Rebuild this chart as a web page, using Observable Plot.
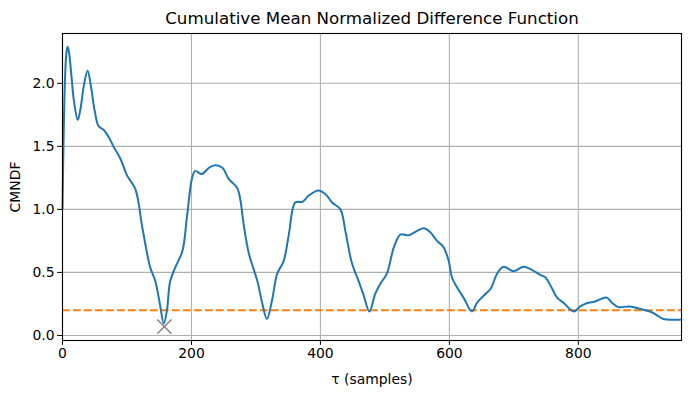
<!DOCTYPE html>
<html><head><meta charset="utf-8">
<script src="https://cdn.jsdelivr.net/npm/d3@7"></script>
<script src="https://cdn.jsdelivr.net/npm/@observablehq/plot@0.6"></script>
<style>body{margin:0;background:#fff;font-family:"DejaVu Sans",sans-serif}</style>
</head><body><div id="chart"></div>
<script>
const tau = [0,2,4,6,7.8,10,14,18,23.7,28,33,39,44,50,56,64,72,80,90,100,113,124,136,144,151,157,162,167,175,186,193,201,206,216,227,237,248,258,271,276,281,289,302,310,317,325,333,343,351,361,372,382,397,408,418,431,439,449,459,467,476,485,493,503,514,524,537,550,560,570,581,591,599,604,612,622,635,643,653,664,674,684,700,715,728,741,749,757,767,777,793,803,813,826,844,852,862,880,896,911,922,932,948,960];
const cmndf = [1.0,1.65,2.05,2.24,2.29,2.25,2.05,1.85,1.71,1.8,1.98,2.1,1.98,1.78,1.66,1.63,1.57,1.49,1.4,1.27,1.16,0.85,0.54,0.43,0.25,0.095,0.2,0.43,0.54,0.67,0.94,1.25,1.305,1.28,1.33,1.35,1.33,1.24,1.17,1.07,0.88,0.65,0.435,0.25,0.13,0.28,0.49,0.59,0.8,1.055,1.06,1.11,1.15,1.12,1.055,1.0,0.82,0.57,0.435,0.32,0.19,0.33,0.41,0.49,0.7,0.8,0.795,0.83,0.85,0.82,0.75,0.7,0.59,0.46,0.38,0.3,0.19,0.26,0.315,0.37,0.49,0.545,0.51,0.545,0.52,0.48,0.46,0.395,0.3,0.26,0.19,0.23,0.255,0.27,0.3,0.26,0.225,0.23,0.21,0.19,0.16,0.13,0.125,0.125];
const threshold = 0.2;
const bestTau = [158];
const bestVal = [0.07];
const xTicks = [0,200,400,600,800];
const yTicks = [0,0.5,1,1.5,2];

const data = tau.map((t,i)=>({t, v:cmndf[i]}));
const pick = bestTau.map((t,i)=>({t, v:bestVal[i]}));
const font = "DejaVu Sans, sans-serif";

const plot = Plot.plot({
  width: 691, height: 397,
  marginTop: 33, marginBottom: 57, marginLeft: 62, marginRight: 10,
  style: {fontFamily: font, fontSize: "13.9px", color: "black", background: "white"},
  x: {domain: [0, 960], ticks: xTicks, label: null},
  y: {domain: [-0.04, 2.395], ticks: yTicks, label: null},
  marks: [
    Plot.gridX(xTicks, {stroke: "#b0b0b0", strokeOpacity: 1, strokeWidth: 1.1}),
    Plot.gridY(yTicks, {stroke: "#b0b0b0", strokeOpacity: 1, strokeWidth: 1.1}),
    Plot.ruleY([threshold], {stroke: "#ff7f0e", strokeWidth: 2, strokeDasharray: "7.7,3.3"}),
    Plot.line(data, {x: "t", y: "v", stroke: "#1f77b4", strokeWidth: 2, curve: "catmull-rom"}),
    Plot.dot(pick, {x: "t", y: "v", symbol: "times", r: 6.5, stroke: "gray", strokeWidth: 1.4}),
    Plot.frame({stroke: "black", strokeWidth: 1.1}),
    Plot.axisX(xTicks, {tickSize: 4.9, tickPadding: 3, fontSize: 13.9, label: null, tickFormat: d=>String(d)}),
    Plot.axisY(yTicks, {tickSize: 4.9, tickPadding: 3, fontSize: 13.9, label: null, tickFormat: d=>d.toFixed(1)}),
    Plot.text(["Cumulative Mean Normalized Difference Function"], {frameAnchor: "top", dy: -15, fontSize: 16.7, lineAnchor: "middle"}),
    Plot.text(["τ (samples)"], {frameAnchor: "bottom", dy: 39, fontSize: 13.9, lineAnchor: "middle"}),
    Plot.text(["CMNDF"], {frameAnchor: "left", dx: -47, rotate: -90, fontSize: 13.9, textAnchor: "middle"})
  ]
});
document.getElementById("chart").appendChild(plot);
</script></body></html>
